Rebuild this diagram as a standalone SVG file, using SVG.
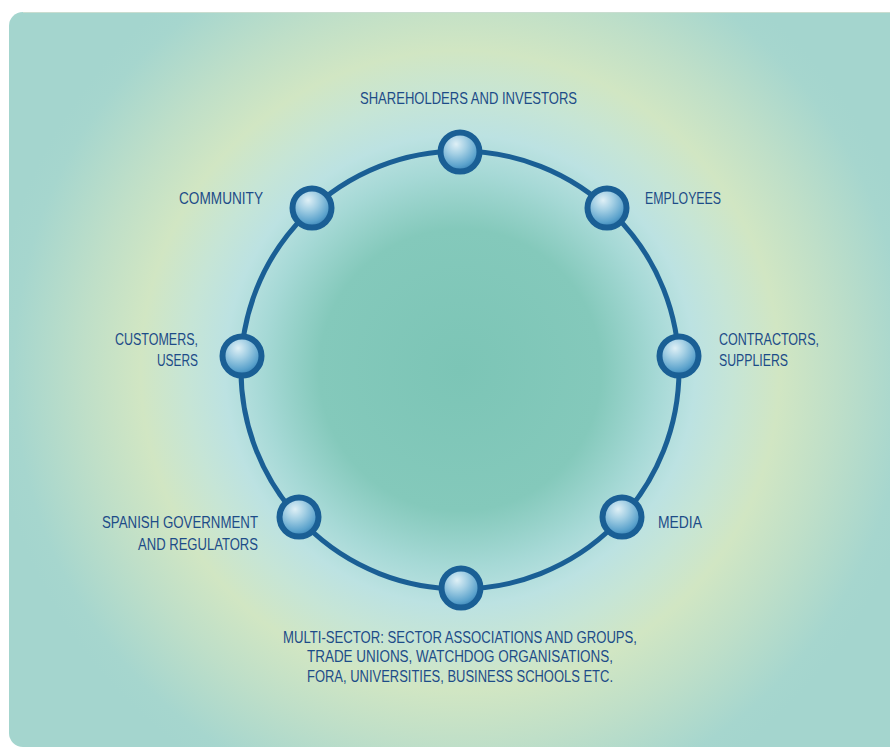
<svg xmlns="http://www.w3.org/2000/svg" width="890" height="748" viewBox="0 0 890 748">
<defs>
<radialGradient id="glow" gradientUnits="userSpaceOnUse" cx="460" cy="370" r="470">
<stop offset="0" stop-color="#7cc5b6"/>
<stop offset="0.3" stop-color="#84c9bb"/>
<stop offset="0.42" stop-color="#a6d9d6"/>
<stop offset="0.5" stop-color="#bce2e2"/>
<stop offset="0.58" stop-color="#c6e5d6"/>
<stop offset="0.68" stop-color="#d1e6c3"/>
<stop offset="0.8" stop-color="#bfdfc8"/>
<stop offset="0.95" stop-color="#a6d6ce"/>
<stop offset="1" stop-color="#a4d5ce"/>
</radialGradient>
<radialGradient id="sphere" cx="0.4" cy="0.3" r="0.75">
<stop offset="0" stop-color="#dff0f6"/>
<stop offset="0.35" stop-color="#a3cfe4"/>
<stop offset="0.75" stop-color="#5ba2cc"/>
<stop offset="1" stop-color="#2e78ad"/>
</radialGradient>
<g id="node">
<circle r="19.5" fill="url(#sphere)" stroke="#1a5f95" stroke-width="6"/>
</g>
</defs>
<style>
.lbl{font-family:"Liberation Sans",Arial,sans-serif;font-size:16px;fill:#1d4c88;}
.ring{fill:none;stroke:#1a5f95;stroke-width:5;}
</style>
<rect x="9" y="12" width="900" height="735" rx="14" fill="url(#glow)"/>
<line x1="23" y1="12.5" x2="890" y2="12.5" stroke="#c9ddd0" stroke-width="1"/>
<g id="connectors">
<circle class="ring" cx="460" cy="370" r="219"/>
</g>
<g id="n-shareholders"><use href="#node" x="460" y="152"/>
<text class="lbl" x="360" y="104" textLength="217" lengthAdjust="spacingAndGlyphs">SHAREHOLDERS AND INVESTORS</text></g>
<g id="n-community"><use href="#node" x="312" y="208"/>
<text class="lbl" x="179" y="204" textLength="84" lengthAdjust="spacingAndGlyphs">COMMUNITY</text></g>
<g id="n-employees"><use href="#node" x="607" y="208"/>
<text class="lbl" x="645" y="204" textLength="76" lengthAdjust="spacingAndGlyphs">EMPLOYEES</text></g>
<g id="n-customers"><use href="#node" x="242" y="356"/>
<text class="lbl" x="115" y="345" textLength="83" lengthAdjust="spacingAndGlyphs">CUSTOMERS,</text>
<text class="lbl" x="157" y="366" textLength="41" lengthAdjust="spacingAndGlyphs">USERS</text></g>
<g id="n-contractors"><use href="#node" x="679" y="356"/>
<text class="lbl" x="719" y="345" textLength="100" lengthAdjust="spacingAndGlyphs">CONTRACTORS,</text>
<text class="lbl" x="719" y="366" textLength="69" lengthAdjust="spacingAndGlyphs">SUPPLIERS</text></g>
<g id="n-spanish"><use href="#node" x="299" y="517"/>
<text class="lbl" x="102" y="528" textLength="156" lengthAdjust="spacingAndGlyphs">SPANISH GOVERNMENT</text>
<text class="lbl" x="138" y="550" textLength="120" lengthAdjust="spacingAndGlyphs">AND REGULATORS</text></g>
<g id="n-media"><use href="#node" x="622" y="517"/>
<text class="lbl" x="658" y="528" textLength="44" lengthAdjust="spacingAndGlyphs">MEDIA</text></g>
<g id="n-multisector"><use href="#node" x="461" y="588"/>
<text class="lbl" x="283" y="643" textLength="354" lengthAdjust="spacingAndGlyphs">MULTI-SECTOR: SECTOR ASSOCIATIONS AND GROUPS,</text>
<text class="lbl" x="307" y="662" textLength="306" lengthAdjust="spacingAndGlyphs">TRADE UNIONS, WATCHDOG ORGANISATIONS,</text>
<text class="lbl" x="307" y="682" textLength="306" lengthAdjust="spacingAndGlyphs">FORA, UNIVERSITIES, BUSINESS SCHOOLS ETC.</text></g>
</svg>
